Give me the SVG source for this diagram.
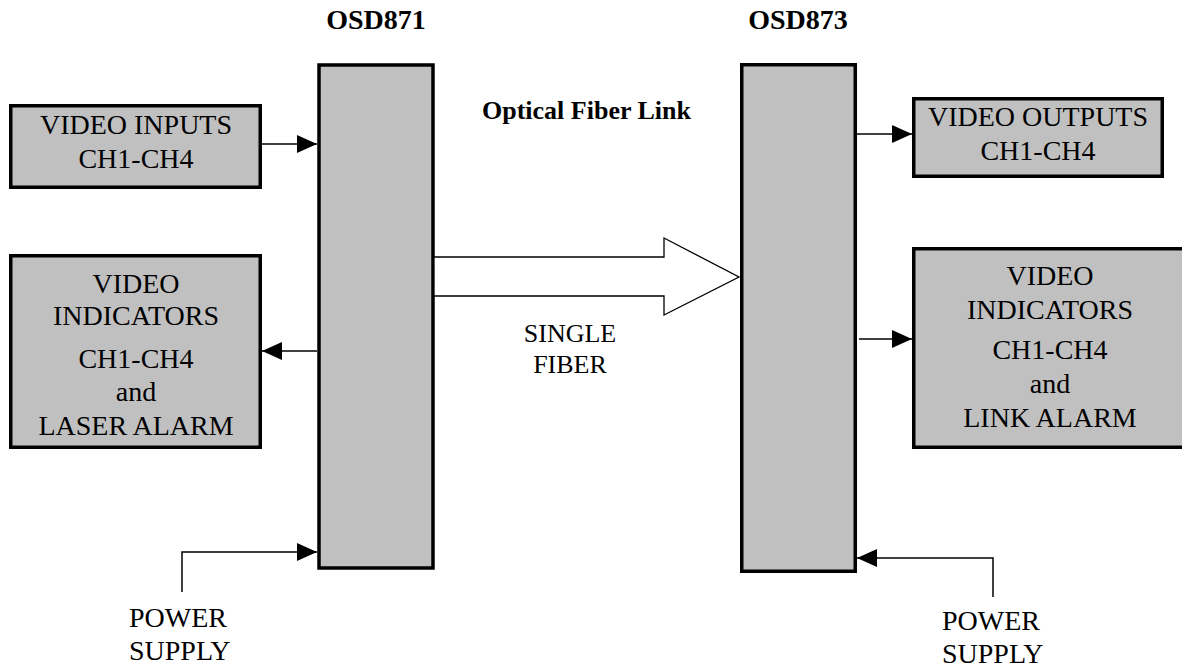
<svg xmlns="http://www.w3.org/2000/svg" width="1182" height="667" viewBox="0 0 1182 667">
<defs>
<marker id="ah" markerWidth="20" markerHeight="18" refX="20" refY="9" orient="auto" markerUnits="userSpaceOnUse">
<path d="M0,0 L20,9 L0,18 Z" fill="#000"/>
</marker>
<style>
.box{fill:#c0c0c0;stroke:#000;stroke-width:3.5}
.t{font-family:"Liberation Serif","Times New Roman",serif;font-size:28px;fill:#000}
.c{text-anchor:middle}
.b{font-weight:bold}
.ln{fill:none;stroke:#000;stroke-width:1.5}
</style>
</defs>
<rect width="1182" height="667" fill="#fff"/>
<g id="osd871">
<rect class="box" x="319" y="65" width="114" height="503"/>
<text class="t c b" x="376" y="29">OSD871</text>
</g>
<g id="osd873">
<rect class="box" x="741.75" y="64.75" width="113.5" height="506.5"/>
<text class="t c b" x="798" y="29">OSD873</text>
</g>
<g id="video-inputs">
<rect class="box" x="10.75" y="105.75" width="249.5" height="81.5"/>
<text class="t c" x="136" y="134">VIDEO INPUTS</text>
<text class="t c" x="136" y="168">CH1-CH4</text>
</g>
<g id="video-indicators-left">
<rect class="box" x="10.75" y="255.75" width="249.5" height="191.5"/>
<text class="t c" x="136" y="293">VIDEO</text>
<text class="t c" x="136" y="325">INDICATORS</text>
<text class="t c" x="136" y="368">CH1-CH4</text>
<text class="t c" x="136" y="401">and</text>
<text class="t c" x="136" y="435">LASER ALARM</text>
</g>
<g id="video-outputs">
<rect class="box" x="913.75" y="98.75" width="248.5" height="77.5"/>
<text class="t c" x="1038" y="126">VIDEO OUTPUTS</text>
<text class="t c" x="1038" y="160">CH1-CH4</text>
</g>
<g id="video-indicators-right">
<rect class="box" x="913.75" y="248.75" width="274" height="198.5"/>
<text class="t c" x="1050" y="285">VIDEO</text>
<text class="t c" x="1050" y="319">INDICATORS</text>
<text class="t c" x="1050" y="359">CH1-CH4</text>
<text class="t c" x="1050" y="393">and</text>
<text class="t c" x="1050" y="427">LINK ALARM</text>
</g>
<g id="power-left">
<text class="t" x="129" y="627">POWER</text>
<text class="t" x="129" y="660">SUPPLY</text>
</g>
<g id="power-right">
<text class="t" x="942" y="630">POWER</text>
<text class="t" x="942" y="663">SUPPLY</text>
</g>
<g id="labels">
<text class="t b" x="482" y="119" style="font-size:26px">Optical Fiber Link</text>
<text class="t c" x="570" y="342" style="font-size:26px">SINGLE</text>
<text class="t c" x="570" y="373" style="font-size:26px">FIBER</text>
</g>
<g id="connectors">
<polygon points="434,257 664,257 664,238 739,277 664,315 664,296 434,296" fill="#fff" stroke="#000" stroke-width="1.3"/>
<line class="ln" x1="262" y1="144" x2="317" y2="144" marker-end="url(#ah)"/>
<line class="ln" x1="317" y1="351" x2="262" y2="351" marker-end="url(#ah)"/>
<polyline class="ln" points="182,592 182,552 317,552" marker-end="url(#ah)"/>
<line class="ln" x1="857" y1="134" x2="912" y2="134" marker-end="url(#ah)"/>
<line class="ln" x1="859" y1="339" x2="912" y2="339" marker-end="url(#ah)"/>
<polyline class="ln" points="993,597 993,558 857,558" marker-end="url(#ah)"/>
</g>
</svg>
